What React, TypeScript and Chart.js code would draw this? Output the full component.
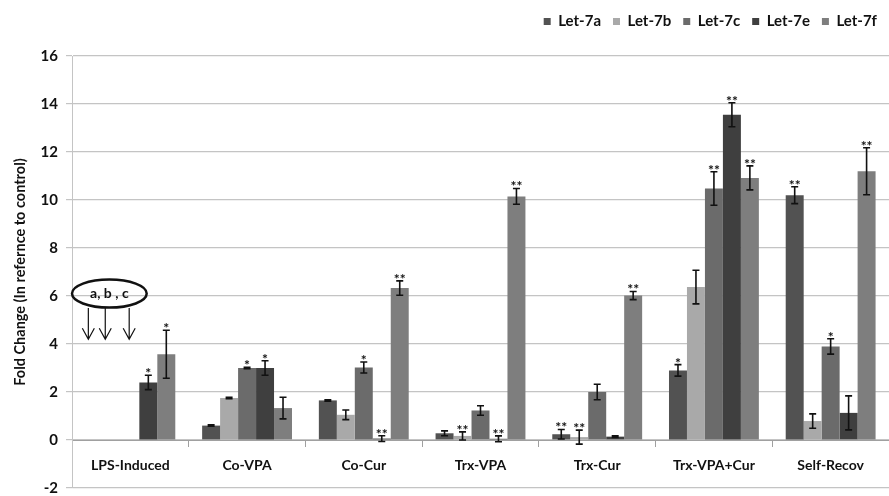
import React, { useEffect, useRef } from "react";
import { Chart, registerables } from "chart.js";
Chart.register(...registerables);

const categories = ["LPS-Induced", "Co-VPA", "Co-Cur", "Trx-VPA", "Trx-Cur", "Trx-VPA+Cur", "Self-Recov"];
const seriesNames = ["Let-7a", "Let-7b", "Let-7c", "Let-7e", "Let-7f"];
const seriesColors = ["#525252", "#a9a9a9", "#6b6b6b", "#3f3f3f", "#7e7e7e"];

const let7a = [null, 0.6, 1.65, 0.28, 0.24, 2.9, 10.2];
const let7b = [null, 1.75, 1.05, 0.17, 0.12, 6.37, 0.79];
const let7c = [null, 3.0, 3.02, 1.23, 2.0, 10.48, 3.9];
const let7e = [2.4, 3.0, 0.06, 0.05, 0.14, 13.55, 1.13];
const let7f = [3.57, 1.33, 6.33, 10.15, 6.02, 10.92, 11.2];

const err7a = [0, 0.03, 0.03, 0.1, 0.2, 0.24, 0.35];
const err7b = [0, 0.03, 0.2, 0.17, 0.29, 0.7, 0.3];
const err7c = [0, 0.03, 0.23, 0.2, 0.32, 0.7, 0.32];
const err7e = [0.3, 0.3, 0.12, 0.12, 0.03, 0.5, 0.71];
const err7f = [1.0, 0.45, 0.3, 0.33, 0.17, 0.5, 0.98];

const stars7a = ["", "", "", "", "**", "*", "**"];
const stars7b = ["", "", "", "**", "**", "", ""];
const stars7c = ["", "*", "*", "", "", "**", "*"];
const stars7e = ["*", "*", "**", "**", "", "**", ""];
const stars7f = ["*", "", "**", "**", "**", "**", "**"];

const annotationText = "a, b , c";

const values = [let7a, let7b, let7c, let7e, let7f];
const errors = [err7a, err7b, err7c, err7e, err7f];
const stars = [stars7a, stars7b, stars7c, stars7e, stars7f];

const FONT = "Lato, 'Open Sans', sans-serif";
const LEGEND_EXTRA = 17;

const legendSpacer = {
  id: "legendSpacer",
  beforeUpdate(chart: any) {
    const lg = chart.legend;
    if (lg && !lg._spacerPatched) {
      const orig = lg.fit.bind(lg);
      lg.fit = function () {
        orig();
        this.height += LEGEND_EXTRA;
      };
      lg._spacerPatched = true;
    }
  },
};

const overlayPlugin = {
  id: "overlay",
  afterDatasetsDraw(chart: any) {
    const ctx = chart.ctx;
    const ys = chart.scales.y;
    const xs = chart.scales.x;
    ctx.save();
    ctx.strokeStyle = "#111";
    ctx.fillStyle = "#111";
    ctx.lineWidth = 1.6;
    chart.data.datasets.forEach((_ds: any, di: number) => {
      const meta = chart.getDatasetMeta(di);
      meta.data.forEach((bar: any, i: number) => {
        const v = values[di][i];
        if (v == null) return;
        const e = errors[di][i];
        const x = bar.x;
        const yt = ys.getPixelForValue(v + e);
        const yb = ys.getPixelForValue(v - e);
        const cap = 3.5;
        ctx.beginPath();
        ctx.moveTo(x, yt);
        ctx.lineTo(x, yb);
        ctx.moveTo(x - cap, yt);
        ctx.lineTo(x + cap, yt);
        ctx.moveTo(x - cap, yb);
        ctx.lineTo(x + cap, yb);
        ctx.stroke();
        const s = stars[di][i];
        if (s) {
          ctx.font = "bold 14px " + FONT;
          ctx.textAlign = "center";
          ctx.textBaseline = "alphabetic";
          ctx.fillText(s, x, yt + 3);
        }
      });
    });

    // annotation "a, b , c" with arrows for the missing LPS-Induced series
    const c0 = xs.getPixelForValue(0);
    const cw = xs.getPixelForValue(1) - c0;
    const ex = c0 - cw * 0.18;
    const ey = ys.getPixelForValue(6.1);
    const rx = cw * 0.32;
    const ry = 14;
    ctx.lineWidth = 2.5;
    ctx.beginPath();
    ctx.ellipse(ex, ey, rx, ry, 0, 0, Math.PI * 2);
    ctx.stroke();
    ctx.font = "bold 14px " + FONT;
    ctx.textAlign = "center";
    ctx.textBaseline = "middle";
    ctx.fillText(annotationText, ex, ey);
    ctx.lineWidth = 1.2;
    const arrowOffsets = [-0.36, -0.215, -0.01];
    const a0 = ys.getPixelForValue(5.5);
    const a1 = ys.getPixelForValue(4.2);
    arrowOffsets.forEach((o) => {
      const ax = c0 + o * cw;
      ctx.beginPath();
      ctx.moveTo(ax, a0);
      ctx.lineTo(ax, a1);
      ctx.moveTo(ax - 6, a1 - 11);
      ctx.lineTo(ax, a1);
      ctx.lineTo(ax + 6, a1 - 11);
      ctx.stroke();
    });
    ctx.restore();
  },
};

export default function App() {
  const ref = useRef<HTMLCanvasElement | null>(null);
  useEffect(() => {
    if (!ref.current) return;
    const chart = new Chart(ref.current, {
      type: "bar",
      data: {
        labels: categories,
        datasets: seriesNames.map((name, i) => ({
          label: name,
          data: values[i] as any,
          backgroundColor: seriesColors[i],
          borderWidth: 0,
          categoryPercentage: 0.77,
          barPercentage: 1,
        })),
      },
      options: {
        animation: false,
        responsive: true,
        maintainAspectRatio: false,
        layout: { padding: { top: 2, right: 0, bottom: 0, left: 10 } },
        plugins: {
          tooltip: { enabled: false },
          legend: {
            position: "top",
            align: "end",
            labels: {
              boxWidth: 7,
              boxHeight: 7,
              padding: 12,
              color: "#111",
              font: { family: FONT, weight: "bold", size: 15 },
            },
          },
        },
        scales: {
          x: {
            axis: "x",
            type: "category",
            position: { y: 0 } as any,
            offset: true,
            grid: {
              offset: true,
              drawOnChartArea: false,
              drawTicks: true,
              tickLength: 6,
              color: "#a0a0a0",
            },
            border: { display: true, color: "#a0a0a0", width: 1 },
            ticks: {
              padding: 11,
              color: "#111",
              font: { family: FONT, weight: "bold", size: 14 },
              maxRotation: 0,
              autoSkip: false,
            },
            afterFit: (scale: any) => {
              scale.paddingLeft = 0;
              scale.paddingRight = 0;
            },
          },
          y: {
            min: -2,
            max: 16,
            ticks: {
              stepSize: 2,
              padding: 8,
              color: "#111",
              font: { family: FONT, weight: "bold", size: 15 },
            },
            grid: { color: "#c4c4c4", tickLength: 6, lineWidth: 1.2 },
            border: { display: true, color: "#c4c4c4" },
            title: {
              display: true,
              text: "Fold Change (In refernce to control)",
              color: "#111",
              font: { family: FONT, weight: "bold", size: 14.5 },
              padding: 2,
            },
            afterFit: (scale: any) => {
              scale.width = 62;
              scale.paddingBottom = 8;
            },
          },
        },
      },
      plugins: [legendSpacer, overlayPlugin],
    });
    return () => chart.destroy();
  }, []);
  return (
    <div style={{ position: "fixed", left: 0, top: 0, width: 889, height: 496, background: "#fff" }}>
      <canvas ref={ref} />
    </div>
  );
}
